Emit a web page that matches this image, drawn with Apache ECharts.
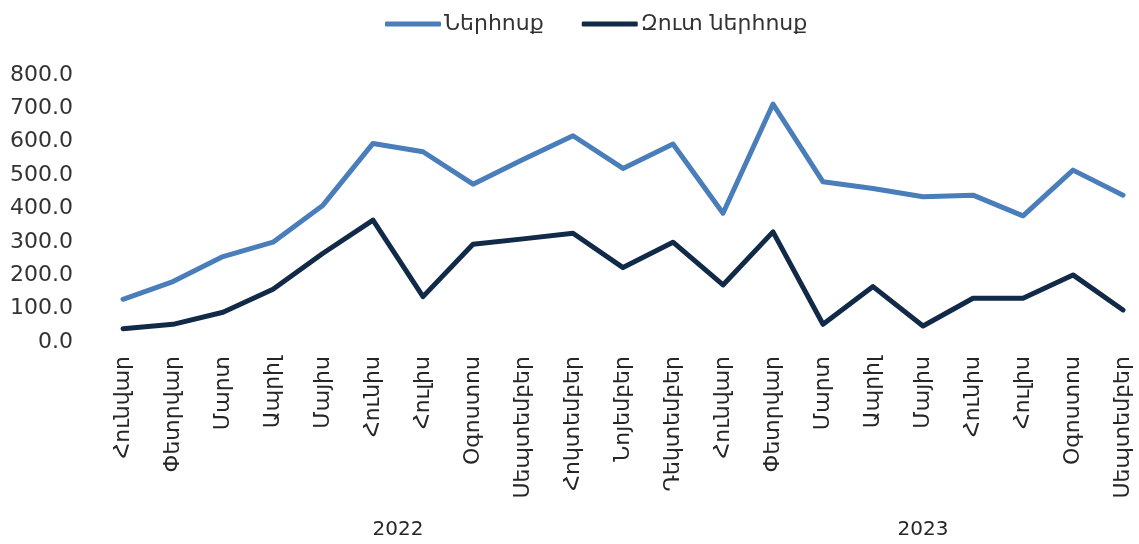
<!DOCTYPE html>
<html lang="hy">
<head>
	<meta charset="UTF-8">
	<title>Ներհոսք</title>
	<style>
		html, body { margin: 0; padding: 0; background: #fff; }
		#chart { width: 1139px; height: 544px; }
	</style>
</head>
<body>
	<div id="chart"></div>
<script src="https://cdn.jsdelivr.net/npm/echarts@6/dist/echarts.min.js"></script>
<script>
    // ամիսներ (2022 հունվար - 2023 սեպտեմբեր)
    var months = ['Հունվար', 'Փետրվար', 'Մարտ', 'Ապրիլ', 'Մայիս', 'Հունիս', 'Հուլիս', 'Օգոստոս',
        'Սեպտեմբեր', 'Հոկտեմբեր', 'Նոյեմբեր', 'Դեկտեմբեր',
        'Հունվար', 'Փետրվար', 'Մարտ', 'Ապրիլ', 'Մայիս', 'Հունիս', 'Հուլիս', 'Օգոստոս', 'Սեպտեմբեր'];
    var inflow = [128, 181, 256, 299, 410, 595, 570, 473, 547, 618, 520, 593,
        386, 713, 480, 460, 435, 440, 378, 515, 440];
    var netInflow = [40, 53, 89, 158, 266, 365, 136, 293, 309, 326, 223, 299,
        171, 330, 53, 166, 48, 131, 131, 201, 96];
    var seriesNames = ['Ներհոսք', 'Զուտ ներհոսք'];
    // տարիներ: առաջին և վերջին ամսվա ինդեքսը
    var years = ['2022', '2023'];
    var yearFrom = [0, 12];
    var yearTo = [11, 20];

    var font = 'DejaVu Sans';
    var yearAt = {};
    years.forEach(function (y, i) { yearAt[(yearFrom[i] + yearTo[i]) / 2] = y; });

    var myChart = echarts.init(document.getElementById('chart'));
    var option = {
        animation: false,
        color: ['#4a7ebb', '#112a47'],
        legend: {
            top: 8,
            left: 380,
            icon: 'roundRect',
            itemWidth: 56,
            itemHeight: 5,
            itemGap: 38,
            textStyle: { fontFamily: font, fontSize: 22, color: '#333', padding: [0, 0, 0, -2] },
            data: seriesNames
        },
        grid: { left: 123, right: 16, top: 75, bottom: 202 },
        xAxis: [{
            type: 'category',
            boundaryGap: false,
            data: months,
            axisLine: { show: false },
            axisTick: { show: false },
            axisLabel: {
                interval: 0,
                rotate: 90,
                margin: 14,
                fontFamily: font,
                fontSize: 22,
                color: '#262626'
            }
        }, {
            type: 'value',
            position: 'bottom',
            min: 0,
            max: months.length - 1,
            interval: 0.5,
            axisLine: { show: false },
            axisTick: { show: false },
            splitLine: { show: false },
            axisLabel: {
                margin: 178,
                fontFamily: font,
                fontSize: 20,
                color: '#262626',
                formatter: function (v) { return yearAt[v] || ''; }
            }
        }],
        yAxis: {
            type: 'value',
            min: 0,
            max: 800,
            interval: 100,
            axisLine: { show: false },
            axisTick: { show: false },
            splitLine: { show: false },
            axisLabel: {
                margin: 50,
                fontFamily: font,
                fontSize: 22,
                color: '#333',
                formatter: function (v) { return v.toFixed(1); }
            }
        },
        series: [{
            name: seriesNames[0],
            type: 'line',
            data: inflow,
            symbol: 'none',
            lineStyle: { width: 5, join: 'round', cap: 'round' }
        }, {
            name: seriesNames[1],
            type: 'line',
            data: netInflow,
            symbol: 'none',
            lineStyle: { width: 5, join: 'round', cap: 'round' }
        }]
    };
    myChart.setOption(option);
</script>
</body>
</html>
